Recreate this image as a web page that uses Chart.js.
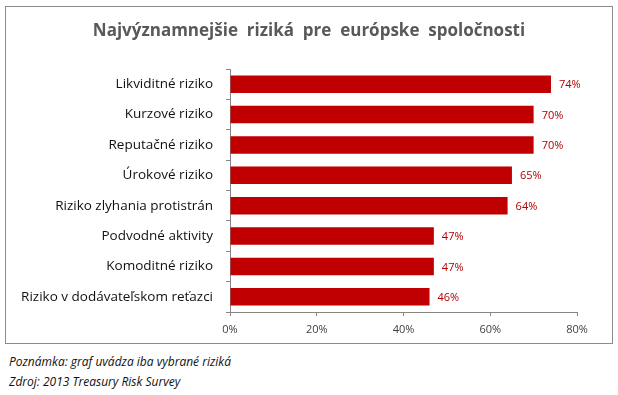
<!DOCTYPE html>
<html>
<head>
<meta charset="utf-8">
<script src="https://cdn.jsdelivr.net/npm/chart.js@4"></script>
<style>
    body { margin: 0; background: #fff; width: 618px; height: 395px; position: relative; font-family: "Open Sans", sans-serif; }
    #box { position: absolute; left: 5px; top: 6px; width: 606px; height: 336px; border: 1px solid #8c8c8c; }
    #box canvas { display: block; }
    #title { position: absolute; left: 0; top: 12px; width: 606px; text-align: center; font-size: 17px; font-weight: bold; color: #595959; white-space: pre; line-height: 21px; }
    .note { position: absolute; left: 9px; font-size: 12px; font-style: italic; color: #111; }
</style>
</head>
<body>
<div id="box">
    <div id="title"></div>
    <canvas id="riskChart" width="606" height="336"></canvas>
</div>
<div class="note" style="top:353px;">Poznámka: graf uvádza iba vybrané riziká</div>
<div class="note" style="top:373px;">Zdroj: 2013 Treasury Risk Survey</div>
<script>
const chartTitle = "Najvýznamnejšie  riziká  pre  európske  spoločnosti";
const categories = [
    "Likviditné riziko",
    "Kurzové riziko",
    "Reputačné riziko",
    "Úrokové riziko",
    "Riziko zlyhania protistrán",
    "Podvodné aktivity",
    "Komoditné riziko",
    "Riziko v dodávateľskom reťazci"
];
const shares = [74, 70, 70, 65, 64, 47, 47, 46];
const xTicks = [0, 20, 40, 60, 80];

const barRed = "#c00000";
const fontFamily = "'Open Sans', sans-serif";

document.getElementById("title").textContent = chartTitle;

// value labels at the end of each bar
const valueLabels = {
    id: "valueLabels",
    afterDatasetsDraw(chart) {
        const ctx = chart.ctx;
        const meta = chart.getDatasetMeta(0);
        ctx.save();
        ctx.font = "11px " + fontFamily;
        ctx.fillStyle = "#b00000";
        ctx.textAlign = "left";
        ctx.textBaseline = "middle";
        meta.data.forEach((bar, i) => {
            ctx.fillText(shares[i] + "%", bar.x + 8, bar.y + 1);
        });
        ctx.restore();
    }
};

new Chart(document.getElementById("riskChart").getContext("2d"), {
    type: "bar",
    data: {
        labels: categories,
        datasets: [{
            data: shares,
            backgroundColor: barRed,
            barPercentage: 0.58,
            categoryPercentage: 1
        }]
    },
    options: {
        indexAxis: "y",
        responsive: false,
        animation: false,
        layout: { padding: { left: 0, right: 35, top: 62, bottom: 0 } },
        plugins: {
            legend: { display: false },
            tooltip: { enabled: false }
        },
        scales: {
            x: {
                min: 0,
                max: 80,
                afterBuildTicks: (axis) => {
                    axis.ticks = xTicks.map(v => ({ value: v }));
                },
                afterFit: (axis) => { axis.height = 31; },
                grid: {
                    drawOnChartArea: false,
                    drawTicks: true,
                    tickLength: 4,
                    color: "#868686"
                },
                border: { color: "#868686" },
                ticks: {
                    padding: 7,
                    color: "#404040",
                    font: { family: fontFamily, size: 11 },
                    callback: (v) => v + "%"
                }
            },
            y: {
                afterFit: (axis) => { axis.width = 224; },
                grid: {
                    offset: true,
                    drawOnChartArea: false,
                    drawTicks: true,
                    tickLength: 4,
                    color: "#868686"
                },
                border: { color: "#868686" },
                ticks: {
                    padding: 13,
                    color: "#111",
                    font: { family: fontFamily, size: 13.5 }
                }
            }
        }
    },
    plugins: [valueLabels]
});
</script>
</body>
</html>
